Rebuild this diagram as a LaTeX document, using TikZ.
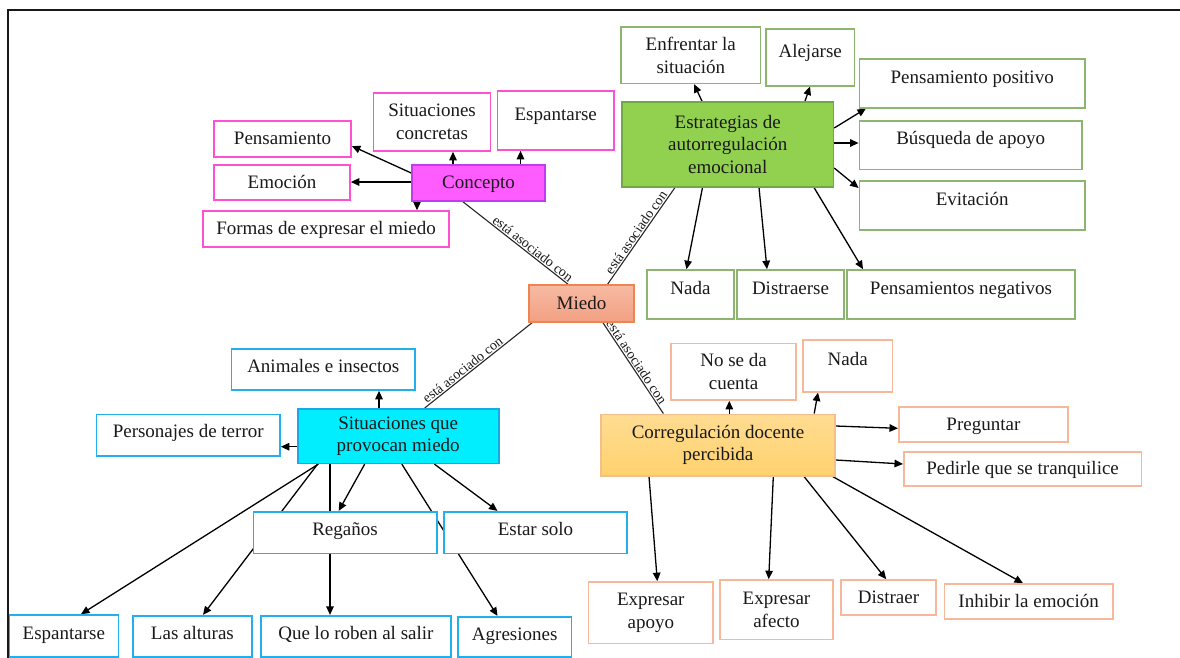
\documentclass[tikz,border=0pt]{standalone}
\usepackage{fontspec}
\setmainfont{Liberation Serif}
\usetikzlibrary{arrows.meta}
\pgfdeclarelayer{bg}
\pgfsetlayers{bg,main}
\definecolor{txt}{HTML}{1A1A1A}
\definecolor{pinkb}{HTML}{FF4FD2}
\definecolor{concfill}{HTML}{FF5CFF}
\definecolor{concb}{HTML}{C03CF0}
\definecolor{miedob}{HTML}{EE8450}
\definecolor{miedotop}{HTML}{F7BAA3}
\definecolor{miedobot}{HTML}{F2A082}
\definecolor{greenb}{HTML}{8CB56F}
\definecolor{estrfill}{HTML}{92D050}
\definecolor{estrb}{HTML}{6FA844}
\definecolor{blueb}{HTML}{22B0EC}
\definecolor{sitfill}{HTML}{00EEFF}
\definecolor{sitb}{HTML}{1AA8E6}
\definecolor{orgb}{HTML}{F6B898}
\definecolor{corrb}{HTML}{F2BE8A}
\definecolor{corrtop}{HTML}{FFDC92}
\definecolor{corrbot}{HTML}{FFD26E}
\newcommand\mkbox[7]{\node[#2, minimum width={(#5)-(#3)}, minimum height={(#6)-(#4)}] (#1) at ({((#3)+(#5))/2},{((#4)+(#6))/2}) {#7};}
\tikzset{
  bx/.style={draw=#1, line width=1.6pt, fill=white, inner sep=0pt, align=center, text=txt,
    font=\fontsize{19}{22.5}\selectfont},
  one/.style={text height=16pt, text depth=4.5pt},
  upA/.style={text height=16pt, text depth=16.5pt},
  upB/.style={text height=16pt, text depth=15.5pt},
  upC/.style={text height=16pt, text depth=10.5pt},
  upD/.style={text height=16pt, text depth=9.5pt},
  arr/.style={-{Triangle[length=8.5pt,width=7.5pt]}, line width=1.3pt, draw=black},
  ln/.style={line width=1.1pt, draw=black!85},
  lab/.style={font=\fontsize{14}{14}\selectfont, sloped, above, inner sep=1pt, text=txt},
}
\begin{document}
\begin{tikzpicture}[x=1pt,y=-1pt]
\useasboundingbox (0,0) rectangle (1180,657);
% frame
\draw[line width=2pt, black!90] (7.5,700) -- (7.5,10) -- (1200,10);

% Concepto group
\mkbox{pens}{bx=pinkb,one}{214}{121}{351}{157}{Pensamiento}
\mkbox{emo}{bx=pinkb,one}{214}{165}{350}{200}{Emoción}
\mkbox{formas}{bx=pinkb,one}{203}{211}{449}{247}{Formas de expresar el miedo}
\mkbox{sitc}{bx=pinkb}{373.5}{93}{490.6}{151}{Situaciones\\concretas}
\mkbox{esp1}{bx=pinkb,upA}{497.5}{91}{614}{150}{Espantarse}
\mkbox{conc}{bx=concb,fill=concfill,one}{412}{165}{545}{201}{Concepto}
\mkbox{miedo}{bx=miedob,top color=miedotop,bottom color=miedobot,one}{529}{285}{634}{322}{Miedo}

% Estrategias group
\mkbox{enf}{bx=greenb}{621}{27}{760.6}{83.3}{Enfrentar la\\situación}
\mkbox{alej}{bx=greenb,upB}{766}{28.7}{854.4}{85.7}{Alejarse}
\mkbox{pp}{bx=greenb,upA}{859.4}{59}{1085}{107.7}{Pensamiento positivo}
\mkbox{bus}{bx=greenb,upA}{859.4}{120.7}{1082}{169.3}{Búsqueda de apoyo}
\mkbox{evit}{bx=greenb,upB}{859.4}{181}{1085}{230}{Evitación}
\mkbox{estr}{bx=estrb,fill=estrfill}{622}{102}{833.4}{186.7}{Estrategias de\\autorregulación\\emocional}
\mkbox{nada1}{bx=greenb,upA}{647}{270}{734}{319}{Nada}
\mkbox{distr}{bx=greenb,upA}{737}{270}{844}{319}{Distraerse}
\mkbox{pneg}{bx=greenb,upA}{847}{270}{1075}{319}{Pensamientos negativos}

% Situaciones group
\mkbox{anim}{bx=blueb,upC}{231.5}{348.7}{415}{390}{Animales e insectos}
\mkbox{pers}{bx=blueb,upC}{96.4}{414.3}{280}{456}{Personajes de terror}
\mkbox{sit}{bx=sitb,fill=sitfill}{297.7}{408.7}{498.7}{463.3}{Situaciones que\\provocan miedo}
\mkbox{reg}{bx=blueb,upC}{253.3}{511.7}{436.7}{553.3}{Regaños}
\mkbox{solo}{bx=blueb,upC}{444}{511.7}{627}{553.3}{Estar solo}
\mkbox{esp2}{bx=blueb,upD}{9.3}{615}{118.3}{657}{Espantarse}
\mkbox{alt}{bx=blueb,upD}{133}{615.7}{251.8}{657}{Las alturas}
\mkbox{rob}{bx=blueb,upD}{261}{615.7}{450.8}{657}{Que lo roben al salir}
\mkbox{agr}{bx=blueb,upD}{458}{616.7}{571.4}{657}{Agresiones}

% Corregulacion group
\mkbox{nose}{bx=orgb}{671}{343.3}{796.2}{400}{No se da\\cuenta}
\mkbox{nada2}{bx=orgb,upA}{803}{340}{892.3}{391.7}{Nada}
\mkbox{preg}{bx=orgb,one}{898.8}{406.7}{1068}{442}{Preguntar}
\mkbox{ped}{bx=orgb,one}{903.8}{451.7}{1141.4}{486}{Pedirle que se tranquilice}
\mkbox{corr}{bx=corrb,top color=corrtop,bottom color=corrbot}{601}{414.3}{835}{475.7}{Corregulación docente\\percibida}
\mkbox{eap}{bx=orgb}{588.4}{582}{713.2}{643.3}{Expresar\\apoyo}
\mkbox{eaf}{bx=orgb}{720}{580}{833}{639.3}{Expresar\\afecto}
\mkbox{dist}{bx=orgb,one}{841}{580}{936}{615}{Distraer}
\mkbox{inh}{bx=orgb,one}{944.3}{584}{1113}{618.7}{Inhibir la emoción}

\begin{pgfonlayer}{bg}
% Concepto
\draw[arr] (conc.west |- 0,173) -- (pens.east |- 0,146);
\draw[arr] (conc.west |- 0,182) -- (emo.east |- 0,182);
\draw[arr] (conc.south -| 417,0) -- (formas.north -| 417,0);
\draw[arr] (conc.north -| 453,0) -- (sitc.south -| 453,0);
\draw[arr] (conc.north -| 520.5,0) -- (esp1.south -| 520.5,0);
\draw[ln] (conc.south -| 463,0) -- node[lab,pos=0.63]{está asociado con} (miedo.north -| 568,0);
% Estrategias
\draw[arr] (estr.north -| 702,0) -- (enf.south -| 694,0);
\draw[arr] (estr.north -| 805,0) -- (alej.south -| 810,0);
\draw[arr] (estr.east |- 0,128) -- (pp.south -| 866,0);
\draw[arr] (estr.east |- 0,143) -- (bus.west |- 0,143);
\draw[arr] (estr.east |- 0,168) -- (evit.west |- 0,188);
\draw[arr] (estr.south -| 702.5,0) -- (nada1.north -| 686.5,0);
\draw[arr] (estr.south -| 759,0) -- (distr.north -| 767,0);
\draw[arr] (estr.south -| 814,0) -- (pneg.north -| 863,0);
\draw[ln] (miedo.north -| 607.6,0) -- node[lab,pos=0.5]{está asociado con} (estr.south -| 675,0);
% Situaciones
\draw[arr] (sit.north -| 379,0) -- (anim.south -| 379,0);
\draw[arr] (sit.west |- 0,446.7) -- (pers.east |- 0,446.7);
\draw[arr] (sit.south -| 318.4,0) -- (esp2.north -| 81,0);
\draw[arr] (sit.south -| 317.6,0) -- (alt.north -| 203,0);
\draw[arr] (sit.south -| 330,0) -- (rob.north -| 330,0);
\draw[arr] (sit.south -| 364.7,0) -- (reg.north -| 338.7,0);
\draw[arr] (sit.south -| 434.4,0) -- (solo.north -| 497.5,0);
\draw[arr] (sit.south -| 401.8,0) -- (agr.north -| 497.5,0);
\draw[ln] (sit.north -| 424.8,0) -- node[lab,pos=0.39]{está asociado con} (miedo.south -| 532,0);
% Corregulacion
\draw[arr] (corr.north -| 729.3,0) -- (nose.south -| 729.3,0);
\draw[arr] (corr.north -| 814.2,0) -- (nada2.south -| 818,0);
\draw[arr] (corr.east |- 0,426) -- (preg.west |- 0,428.3);
\draw[arr] (corr.east |- 0,460) -- (ped.west |- 0,464);
\draw[arr] (corr.south -| 649,0) -- (eap.north -| 657.3,0);
\draw[arr] (corr.south -| 773.3,0) -- (eaf.north -| 768.7,0);
\draw[arr] (corr.south -| 804,0) -- (dist.north -| 886.2,0);
\draw[arr] (corr.south -| 832.6,0) -- (inh.north -| 1023,0);
\draw[ln] (miedo.south -| 603,0) -- node[lab,pos=0.47]{está asociado con} (corr.north -| 663.4,0);
\end{pgfonlayer}
\end{tikzpicture}
\end{document}
